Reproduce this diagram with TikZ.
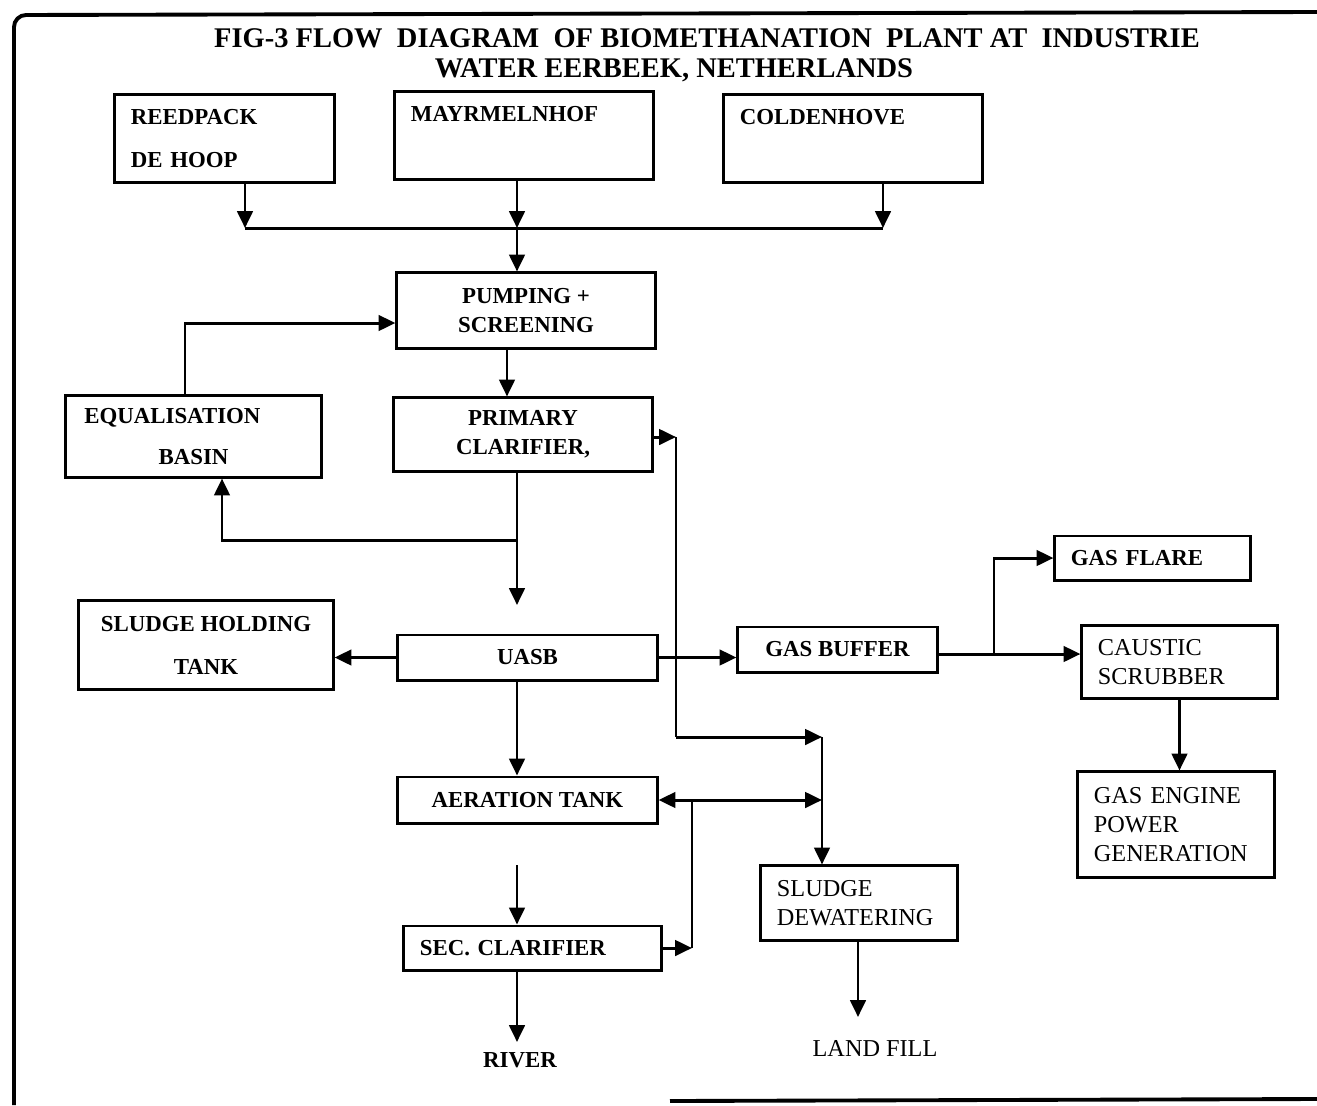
\documentclass[tikz,border=0pt]{standalone}
\usepackage{fontspec}
\setmainfont{Liberation Serif}
\usepackage{tikz}
\usetikzlibrary{positioning,arrows.meta,calc}
\newcommand{\boxfont}{\fontsize{6.5}{8.2}\selectfont\bfseries}
\newcommand{\plainfont}{\fontsize{6.9}{8.2}\selectfont}
\newcommand{\titlefont}{\fontsize{8.1}{9}\selectfont\bfseries}

\begin{document}
\begin{tikzpicture}[
  x=0.01cm, y=-0.01cm,
  box/.style={draw, line width=0.85pt, font=\boxfont, align=center, inner sep=0pt},
  lbox/.style={box, align=left, inner xsep=0.16cm},
  txt/.style={font=\boxfont, inner sep=0pt},
  arr/.style={-{Triangle[length=4.8pt,width=4.4pt]}, line width=0.85pt},
  arr2/.style={{Triangle[length=4.8pt,width=4.4pt]}-{Triangle[length=4.8pt,width=4.4pt]}, line width=0.85pt},
  ln/.style={line width=0.85pt},
]
  \useasboundingbox (0,0) rectangle (1317,1105);

  % outer frame (open at the right)
  \draw[line width=1.1pt, rounded corners=0.12cm] (14,1105) -- (14,15) -- (1317,12);
  \draw[line width=1.1pt] (670,1101) -- (1317,1099);

  % title
  \node[font=\titlefont] (title1) at (707,38) {FIG-3 FLOW \ DIAGRAM \ OF BIOMETHANATION \ PLANT AT \ INDUSTRIE};
  \node[font=\titlefont] (title2) at (674,70) {WATER EERBEEK, NETHERLANDS};

  % the three mills
  \node[lbox, minimum height=0.87cm, text width=1.87cm] (reed) at (224.5,138.5) {REEDPACK\\[4pt]DE HOOP};
  \node[lbox, minimum height=0.87cm, text width=2.26cm] (mayr) at (524,135.5) {MAYRMELNHOF\\[4pt]\mbox{}};
  \node[lbox, minimum height=0.87cm, text width=2.26cm] (cold) at (853,138.5) {COLDENHOVE\\[4pt]\mbox{}};

  % water line
  \node[box, minimum width=2.58cm, minimum height=0.75cm] (pump) at (526,310.5) {PUMPING +\\SCREENING};
  \node[box, minimum width=2.55cm, minimum height=0.81cm] (equal) at (193.5,436.5) {EQUALISATION\hspace*{12pt}\\[3.2pt]BASIN};
  \node[box, minimum width=2.58cm, minimum height=0.73cm] (prim) at (523,434.5) {PRIMARY\\CLARIFIER,};
  \node[box, minimum width=2.54cm, minimum height=0.88cm] (sht) at (206,645) {SLUDGE HOLDING\\[4pt]TANK};
  \node[box, minimum width=2.59cm, minimum height=0.45cm] (uasb) at (527.5,657.5) {UASB};
  \node[box, minimum width=2.59cm, minimum height=0.46cm] (aer) at (527.5,800) {AERATION TANK};
  \node[lbox, minimum height=0.44cm, text width=2.25cm] (sec) at (532.5,948) {SEC. CLARIFIER};
  \node[lbox, font=\plainfont, minimum height=0.74cm, text width=1.64cm] (dew) at (859,903) {SLUDGE\\DEWATERING};
  \node[txt] (river) at (520,1060) {RIVER};
  \node[txt, font=\plainfont] (landfill) at (875,1049) {LAND FILL};

  % gas line
  \node[box, minimum width=1.99cm, minimum height=0.45cm] (gasbuf) at (837.5,649.5) {GAS BUFFER};
  \node[lbox, minimum height=0.44cm, text width=1.63cm] (flare) at (1152.5,558) {GAS FLARE};
  \node[lbox, font=\plainfont, minimum height=0.72cm, text width=1.63cm] (caustic) at (1179.5,662) {CAUSTIC\\SCRUBBER};
  \node[lbox, font=\plainfont, minimum height=1.05cm, text width=1.64cm] (engine) at (1176,824.5) {GAS ENGINE\\POWER\\GENERATION};

  % bends and junctions
  \coordinate (bL) at (245,228);
  \coordinate (bM) at (517,228);
  \coordinate (bR) at (883,228);
  \coordinate (pq) at (507,348);
  \coordinate (eqt) at (185,323);
  \coordinate (sp) at (517,540);
  \coordinate (eqb) at (222,540);
  \coordinate (uin) at (517,605);
  \coordinate (ps) at (676,437);
  \coordinate (c1) at (676,737);
  \coordinate (c2) at (822,737);
  \coordinate (rx) at (692,803);
  \coordinate (ua) at (517,690);
  \coordinate (s0) at (517,865);
  \coordinate (rv) at (517,1042);
  \coordinate (gj) at (994,654);
  \coordinate (lf) at (858,1017);

  % mills to pumping
  \draw[arr] (reed.south -| bL) -- (bL);
  \draw[arr] (mayr.south -| bM) -- (bM);
  \draw[arr] (cold.south -| bR) -- (bR);
  \draw[ln] (bL) -- (bR);
  \draw[arr] (bM) -- (pump.north -| bM);
  \draw[arr] (pump.south -| pq) -- (prim.north -| pq);

  % equalisation loop
  \draw[arr] (equal.north -| eqt) -- (eqt) -- (pump.west |- eqt);
  \draw[ln] (prim.south -| sp) -- (sp);
  \draw[arr] (sp) -- (eqb) -- (equal.south -| eqb);
  \draw[arr] (sp) -- (uin);

  % sludge to dewatering
  \draw[arr] (prim.east |- ps) -- (ps);
  \draw[ln] (ps) -- (c1);
  \draw[arr] (c1) -- (c2);
  \draw[arr] (c2) -- (dew.north -| c2);
  \draw[arr2] (aer.east) -- (aer.east -| c2);
  \draw[arr] (sec.east) -- (sec.east -| rx);
  \draw[ln] (sec.east -| rx) -- (aer.east -| rx);
  \draw[arr] (dew.south -| lf) -- (lf);

  % uasb and effluent
  \draw[arr] (uasb.west) -- (uasb.west -| sht.east);
  \draw[arr] (uasb.east) -- (uasb.east -| gasbuf.west);
  \draw[arr] (uasb.south -| ua) -- (aer.north -| ua);
  \draw[arr] (s0) -- (sec.north -| s0);
  \draw[arr] (sec.south -| rv) -- (rv);

  % biogas
  \draw[ln] (gasbuf.east |- gj) -- (gj);
  \draw[arr] (gj) -- (caustic.west |- gj);
  \draw[arr] (gj) |- (flare.west);
  \draw[arr] (caustic.south) -- (caustic.south |- engine.north);
\end{tikzpicture}
\end{document}
